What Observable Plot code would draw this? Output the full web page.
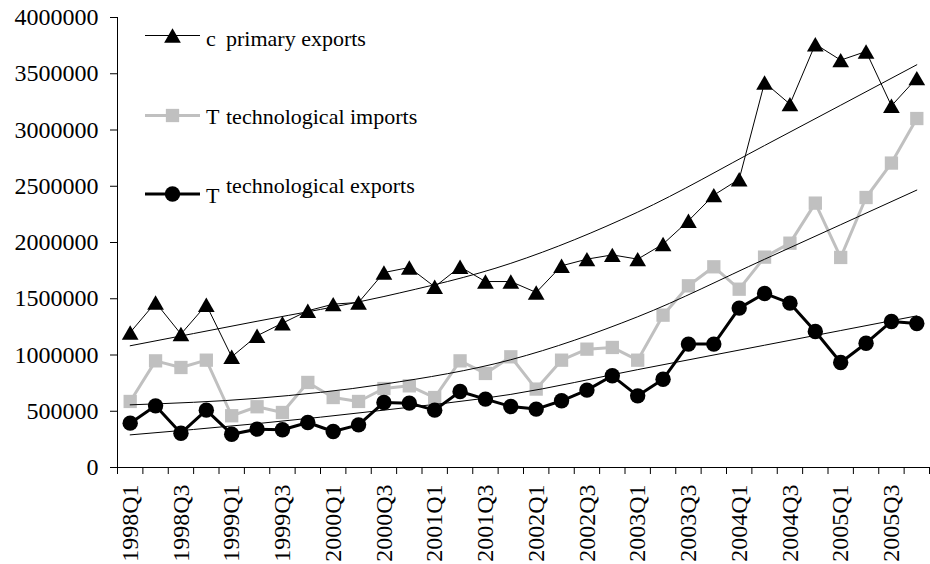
<!DOCTYPE html>
<html><head><meta charset="utf-8">
<script src="https://cdn.jsdelivr.net/npm/d3@7"></script>
<script src="https://cdn.jsdelivr.net/npm/@observablehq/plot@0.6"></script>
<style>
body{margin:0;background:#fff}
#wrap{position:relative;width:930px;height:564px}
#wrap svg text{font-family:"Liberation Serif","Times New Roman",serif !important}
#legend{position:absolute;left:0;top:0;pointer-events:none}
</style>
</head><body><div id="wrap"></div>
<script>
const quarters = ["1998Q1","1998Q2","1998Q3","1998Q4","1999Q1","1999Q2","1999Q3","1999Q4",
"2000Q1","2000Q2","2000Q3","2000Q4","2001Q1","2001Q2","2001Q3","2001Q4",
"2002Q1","2002Q2","2002Q3","2002Q4","2003Q1","2003Q2","2003Q3","2003Q4",
"2004Q1","2004Q2","2004Q3","2004Q4","2005Q1","2005Q2","2005Q3","2005Q4"];
const primaryExports = [1200000,1467000,1186000,1446000,984000,1171000,1283000,1393000,
1452000,1467000,1733000,1778000,1606000,1784000,1653000,1653000,
1556000,1793000,1852000,1890000,1852000,1986000,2193000,2421000,
2563000,3422000,3230000,3763000,3621000,3698000,3215000,3461000];
const techImports = [587000,948000,889000,954000,460000,540000,489000,756000,
622000,587000,702000,726000,622000,948000,836000,984000,
697000,954000,1052000,1067000,954000,1354000,1615000,1784000,
1585000,1870000,1994000,2350000,1867000,2400000,2706000,3102000];
const techExports = [394000,548000,305000,510000,296000,341000,335000,400000,
320000,379000,578000,572000,510000,676000,608000,542000,
519000,593000,688000,815000,637000,785000,1097000,1097000,
1417000,1547000,1461000,1209000,933000,1105000,1298000,1280000];
// trend curves at these quarters
const trendQuarters = ["1998Q1","1999Q2","2000Q3","2001Q4","2003Q1","2004Q2","2005Q4"];
const primaryTrend = [1082000,1300000,1520000,1815000,2270000,2862000,3580000];
const importsTrend = [557000,615000,741000,958000,1340000,1851000,2466000];
const exportsTrend = [290000,390000,510000,650000,870000,1087000,1348000];
const yTicks = [0,500000,1000000,1500000,2000000,2500000,3000000,3500000,4000000];
const labelQuarters = ["1998Q1","1998Q3","1999Q1","1999Q3","2000Q1","2000Q3","2001Q1","2001Q3",
"2002Q1","2002Q3","2003Q1","2003Q3","2004Q1","2004Q3","2005Q1","2005Q3"];
const seriesNames = ["primary exports","technological imports","technological exports"];

const mk = arr => arr.map((v, i) => ({i, v}));
const P = mk(primaryExports), I = mk(techImports), E = mk(techExports);
const trends = [];
[primaryTrend, importsTrend, exportsTrend].forEach((arr, s) =>
  arr.forEach((v, k) => trends.push({s, i: quarters.indexOf(trendQuarters[k]), v})));
const boundaries = d3.range(0, quarters.length + 1).map(k => k - 0.5);
const labelIdx = labelQuarters.map(q => quarters.indexOf(q));
const font = "'Liberation Serif', 'Times New Roman', serif";

const chart = Plot.plot({
  width: 930, height: 564,
  marginLeft: 117, marginRight: 1, marginTop: 17, marginBottom: 97,
  style: {fontFamily: font, fontSize: "24px", color: "black", background: "white"},
  x: {type: "linear", domain: [-0.5, quarters.length - 0.5]},
  y: {domain: [0, 4000000]},
  marks: [
    Plot.axisY({ticks: yTicks, tickFormat: d => String(d), tickSize: 7, tickPadding: 12, fontSize: 24, label: null}),
    Plot.axisX({ticks: boundaries, tickFormat: () => "", tickSize: 7, label: null}),
    Plot.axisX({ticks: labelIdx, tickFormat: i => quarters[i], tickSize: 0, tickPadding: 17, tickRotate: -90, fontSize: 24, label: null}),
    Plot.ruleY([0], {stroke: "black"}),
    Plot.ruleX([-0.5], {stroke: "black"}),
    Plot.line(P, {x: "i", y: "v", stroke: "black", strokeWidth: 1}),
    Plot.dot(P, {x: "i", y: "v", symbol: "triangle", r: 6.2, fill: "black", dy: 2.4}),
    Plot.line(I, {x: "i", y: "v", stroke: "#c0c0c0", strokeWidth: 3}),
    Plot.dot(I, {x: "i", y: "v", symbol: "square", r: 7.5, fill: "#c0c0c0"}),
    Plot.line(E, {x: "i", y: "v", stroke: "black", strokeWidth: 3}),
    Plot.dot(E, {x: "i", y: "v", symbol: "circle", r: 7.7, fill: "black"}),
    Plot.line(trends, {x: "i", y: "v", z: "s", stroke: "black", strokeWidth: 1, curve: "monotone-x"})
  ]
});
const wrap = document.getElementById("wrap");
wrap.appendChild(chart);

const lg = d3.select(wrap).append("svg").attr("id", "legend").attr("width", 930).attr("height", 564)
  .style("font-family", font);
const rows = [
  {y: 35.5, stub: "c", stubY: 46, textY: 45.5, name: seriesNames[0], stroke: "black", sw: 1, sym: d3.symbolTriangle, size: 120.7, fill: "black", dy: 2.4},
  {y: 115.5, stub: "T", stubY: 124, textY: 124, name: seriesNames[1], stroke: "#c0c0c0", sw: 3, sym: d3.symbolSquare, size: 177, fill: "#c0c0c0", dy: 0},
  {y: 194, stub: "T", stubY: 203, textY: 192.5, name: seriesNames[2], stroke: "black", sw: 3, sym: d3.symbolCircle, size: Math.PI * 7.7 * 7.7, fill: "black", dy: 0}
];
rows.forEach(r => {
  lg.append("line").attr("x1", 145).attr("x2", 200).attr("y1", r.y).attr("y2", r.y)
    .attr("stroke", r.stroke).attr("stroke-width", r.sw);
  lg.append("path").attr("d", d3.symbol(r.sym, r.size)()).attr("fill", r.fill)
    .attr("transform", `translate(172.5,${r.y + r.dy})`);
  lg.append("text").attr("x", 206).attr("y", r.stubY).attr("font-size", 22).text(r.stub);
  lg.append("text").attr("x", 226).attr("y", r.textY).attr("font-size", 22).text(r.name);
});
</script>
</body></html>
